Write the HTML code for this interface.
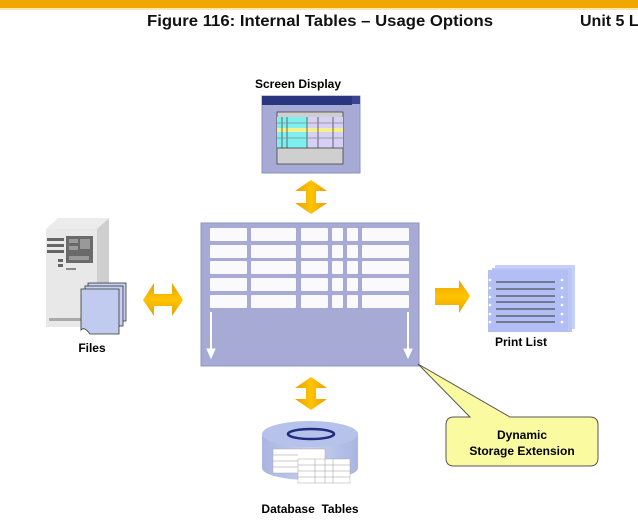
<!DOCTYPE html>
<html><head><meta charset="utf-8"><style>
html,body{margin:0;padding:0;background:#fff;}
svg{display:block;font-family:"Liberation Sans",Arial,sans-serif;}
</style></head><body>
<svg width="638" height="527" viewBox="0 0 638 527" xmlns="http://www.w3.org/2000/svg">
<defs>
<linearGradient id="og" x1="0" y1="0" x2="1" y2="0"><stop offset="0" stop-color="#e8a000"/><stop offset="0.5" stop-color="#ffc400"/><stop offset="1" stop-color="#e8a000"/></linearGradient>
<linearGradient id="ogv" x1="0" y1="0" x2="0" y2="1"><stop offset="0" stop-color="#e8a000"/><stop offset="0.5" stop-color="#ffc400"/><stop offset="1" stop-color="#e8a000"/></linearGradient>
<linearGradient id="cyl" x1="0" y1="0" x2="1" y2="0"><stop offset="0" stop-color="#a9b6e0"/><stop offset="0.5" stop-color="#c5cff0"/><stop offset="1" stop-color="#a9b6e0"/></linearGradient>
</defs>
<rect x="0" y="0" width="638" height="8" fill="#f0a800"/>
<rect x="0" y="8" width="638" height="2" fill="#fbe6b0"/>
<text x="147" y="26" font-size="16" font-weight="bold" fill="#111" textLength="346" lengthAdjust="spacingAndGlyphs">Figure 116: Internal Tables – Usage Options</text>
<text x="580" y="26" font-size="16" font-weight="bold" fill="#111">Unit 5 L</text>

<!-- Screen display -->
<text x="298" y="88" font-size="12" font-weight="bold" text-anchor="middle">Screen Display</text>
<rect x="262" y="96" width="98" height="77" fill="#a6aad4" stroke="#8d91c0"/>
<rect x="262" y="96" width="90" height="9" fill="#2a3580"/>
<polygon points="352,96 360,96 360,104 352,104" fill="#3a4590"/>
<rect x="277" y="112" width="66" height="52" fill="#cfcfcf" stroke="#333" stroke-width="0.7"/>
<rect x="277" y="117" width="66" height="31" fill="#d6d0f4"/>
<rect x="277" y="117" width="30" height="31" fill="#7ff0f0"/>
<rect x="277" y="128" width="66" height="4" fill="#f6f08a"/>
<g stroke="#333" stroke-width="0.7"><line x1="282" y1="117" x2="282" y2="148"/><line x1="287" y1="117" x2="287" y2="148"/><line x1="307" y1="117" x2="307" y2="148"/><line x1="318" y1="117" x2="318" y2="148"/><line x1="333" y1="117" x2="333" y2="148"/><line x1="277" y1="148" x2="343" y2="148"/><line x1="277" y1="123" x2="343" y2="123" stroke="#888"/><line x1="277" y1="138" x2="343" y2="138" stroke="#888"/></g>

<!-- vertical double arrows -->
<polygon points="311,180 327,191 316,191 316,203 327,203 311,214 295,203 306,203 306,191 295,191" fill="url(#og)"/>
<polygon points="311,377 327,388 316,388 316,399 327,399 311,410 295,399 306,399 306,388 295,388" fill="url(#og)"/>

<!-- big table -->
<rect x="201" y="223" width="218" height="143" fill="#a6aad4" stroke="#9094c2"/>
<g fill="#fff" opacity="0.95">
<g id="row">
<rect x="210" y="228" width="37" height="13" rx="1"/><rect x="251" y="228" width="45" height="13" rx="1"/><rect x="301" y="228" width="27" height="13" rx="1"/><rect x="332" y="228" width="11" height="13" rx="1"/><rect x="347" y="228" width="11" height="13" rx="1"/><rect x="362" y="228" width="47" height="13" rx="1"/>
</g>
<use href="#row" y="17"/><use href="#row" y="33"/><use href="#row" y="50"/><use href="#row" y="67"/>
</g>
<g fill="#fff" stroke="#fff">
<line x1="211" y1="312" x2="211" y2="350" stroke-width="2"/><polygon points="207,349 215,349 211,358"/>
<line x1="408" y1="312" x2="408" y2="350" stroke-width="2"/><polygon points="404,349 412,349 408,358"/>
</g>

<!-- server -->
<polygon points="46,229 58,218 109,218 97,229" fill="#ececec"/>
<rect x="46" y="229" width="51" height="98" fill="#e8e8e8"/>
<polygon points="97,229 109,218 109,316 97,327" fill="#cfcfcf"/>
<rect x="47" y="238" width="17" height="3" fill="#666"/><rect x="47" y="244" width="17" height="3" fill="#666"/><rect x="47" y="250" width="17" height="3" fill="#666"/>
<rect x="66" y="236" width="27" height="27" fill="#6a6a6a"/>
<rect x="69" y="239" width="9" height="4" fill="#999"/><rect x="80" y="239" width="10" height="10" fill="#999"/><rect x="69" y="246" width="9" height="4" fill="#999"/><rect x="69" y="256" width="20" height="4" fill="#999"/>
<rect x="58" y="259" width="5" height="3" fill="#666"/><rect x="58" y="264" width="5" height="3" fill="#666"/><rect x="66" y="268" width="10" height="2" fill="#888"/>
<rect x="49" y="318" width="40" height="3" fill="#aaa"/>
<g stroke="#333" stroke-width="0.8">
<rect x="88" y="283" width="38" height="38" fill="#c7d0f0"/>
<rect x="85" y="286" width="38" height="40" fill="#c7d0f0"/>
<path d="M81,289 H119 V334 H90 Q84,326 81,330 Z" fill="#c1cbef"/>
</g>
<text x="92" y="352" font-size="12" font-weight="bold" text-anchor="middle">Files</text>

<!-- left-right arrow -->
<polygon points="143,300 154,283 154,294 172,294 172,283 183,300 172,316 172,306 154,306 154,316" fill="url(#ogv)"/>

<!-- right arrow -->
<polygon points="435,288 459,288 459,280 470,296 459,313 459,305 435,305" fill="url(#ogv)"/>

<!-- print list -->
<rect x="495" y="265" width="80" height="64" fill="#c7d0f8"/>
<rect x="492" y="268" width="80" height="64" fill="#bcc6f4"/>
<rect x="488" y="270" width="80" height="62" fill="#b3bff4"/>
<g stroke="#333" stroke-width="1"><line x1="496" y1="282" x2="555" y2="282"/><line x1="496" y1="289" x2="555" y2="289"/><line x1="496" y1="296" x2="555" y2="296"/><line x1="496" y1="302" x2="555" y2="302"/><line x1="496" y1="309" x2="555" y2="309"/><line x1="496" y1="316" x2="555" y2="316"/><line x1="496" y1="322" x2="555" y2="322"/></g>
<g fill="#fff"><circle cx="490" cy="280" r="1.3"/><circle cx="490" cy="288" r="1.3"/><circle cx="490" cy="297" r="1.3"/><circle cx="490" cy="305" r="1.3"/><circle cx="490" cy="314" r="1.3"/><circle cx="490" cy="322" r="1.3"/>
<circle cx="562" cy="280" r="1.3"/><circle cx="562" cy="288" r="1.3"/><circle cx="562" cy="297" r="1.3"/><circle cx="562" cy="305" r="1.3"/><circle cx="562" cy="314" r="1.3"/><circle cx="562" cy="322" r="1.3"/></g>
<text x="521" y="346" font-size="12" font-weight="bold" text-anchor="middle">Print List</text>

<!-- database -->
<path d="M262,434 V468 A48,12 0 0 0 358,468 V434 Z" fill="url(#cyl)"/>
<ellipse cx="310" cy="434" rx="48" ry="13" fill="#b6c2ea"/>
<ellipse cx="311" cy="434" rx="23" ry="5" fill="none" stroke="#1e2d80" stroke-width="2.5"/>
<g fill="#fff" stroke="#aaa" stroke-width="0.5">
<rect x="273" y="449" width="52" height="24"/><rect x="298" y="459" width="52" height="24"/>
</g>
<g stroke="#999" stroke-width="0.5"><line x1="273" y1="455" x2="298" y2="455"/><line x1="273" y1="461" x2="298" y2="461"/><line x1="273" y1="467" x2="298" y2="467"/><line x1="298" y1="465" x2="350" y2="465"/><line x1="298" y1="471" x2="350" y2="471"/><line x1="298" y1="477" x2="350" y2="477"/><line x1="315" y1="459" x2="315" y2="483"/><line x1="325" y1="459" x2="325" y2="483"/><line x1="333" y1="459" x2="333" y2="483"/></g>
<text x="310" y="513" font-size="12" font-weight="bold" text-anchor="middle">Database&#160;&#160;Tables</text>

<!-- callout -->
<path d="M454,417 H470 L418,364 L510,417 H590 Q598,417 598,425 V458 Q598,466 590,466 H454 Q446,466 446,458 V425 Q446,417 454,417 Z" fill="#fafaa0" stroke="#555" stroke-width="1"/>
<text x="522" y="439" font-size="12" font-weight="bold" text-anchor="middle">Dynamic</text>
<text x="522" y="455" font-size="12" font-weight="bold" text-anchor="middle">Storage Extension</text>
</svg>
</body></html>
